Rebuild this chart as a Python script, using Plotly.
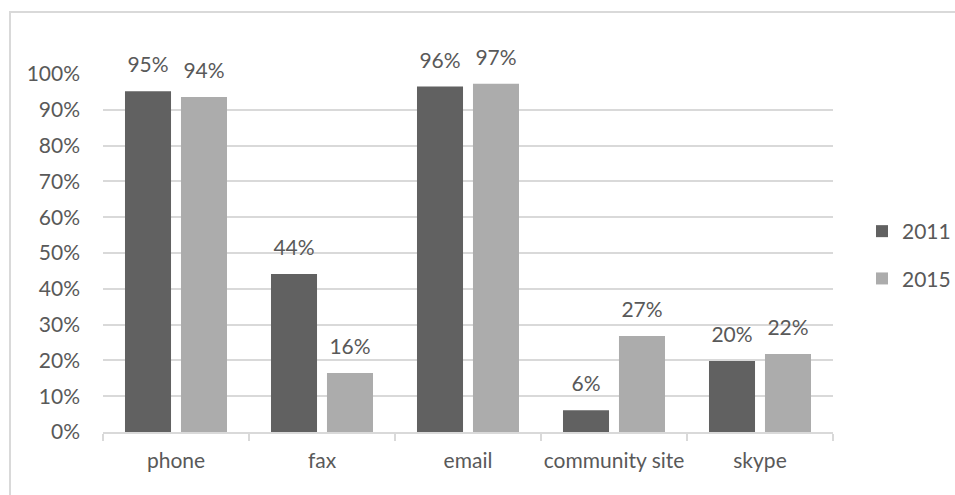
import plotly.graph_objects as go

categories = ["phone", "fax", "email", "community site", "skype"]
series_names = ["2011", "2015"]
values_2011 = [0.952, 0.441, 0.965, 0.061, 0.198]
values_2015 = [0.936, 0.165, 0.973, 0.268, 0.218]
y_ticks = [0, 0.1, 0.2, 0.3, 0.4, 0.5, 0.6, 0.7, 0.8, 0.9, 1.0]
y_tick_labels = ["0%", "10%", "20%", "30%", "40%", "50%", "60%", "70%", "80%", "90%", "100%"]

colors = ["#616161", "#acacac"]
FONT = "Lato"
TXT = "#595959"
FS = 21

fig = go.Figure()
for name, vals, col in zip(series_names, [values_2011, values_2015], colors):
    fig.add_trace(go.Bar(
        x=categories, y=vals, name=name, offsetgroup=name, legendgroup=name,
        marker=dict(color=col, line=dict(width=0)),
        hoverinfo="skip",
    ))
for name, vals in zip(series_names, [values_2011, values_2015]):
    fig.add_trace(go.Scatter(
        x=categories, y=vals, offsetgroup=name, mode="markers+text",
        text=[f"{round(v*100)}%" for v in vals], textposition="top center",
        textfont=dict(family=FONT, size=FS, color=TXT),
        marker=dict(size=20, opacity=0), showlegend=False, cliponaxis=False,
        hoverinfo="skip",
    ))

W, H = 955, 495
fig.update_layout(
    width=W, height=H,
    margin=dict(l=103, r=122, t=74, b=63),
    paper_bgcolor="white", plot_bgcolor="white",
    barmode="group", scattermode="group",
    bargap=0.233, bargroupgap=0.178, scattergap=0.233,
    font=dict(family=FONT, size=FS, color=TXT),
    showlegend=True,
    legend=dict(xref="container", yref="container", x=862 / W, xanchor="left",
                y=1 - 255 / H, yanchor="middle",
                font=dict(family=FONT, size=FS, color=TXT),
                tracegroupgap=17, bgcolor="rgba(0,0,0,0)"),
    xaxis=dict(type="category", showgrid=False, showline=True, linecolor="#d9d9d9",
               linewidth=1.5, ticks="outside", tickson="boundaries", ticklen=7,
               tickcolor="#d9d9d9", tickwidth=1.5, ticklabelstandoff=9,
               tickangle=0, automargin=False,
               tickfont=dict(family=FONT, size=FS, color=TXT)),
    yaxis=dict(range=[0, 1.0], tickvals=y_ticks, ticktext=y_tick_labels,
               showgrid=True, gridcolor="#d9d9d9", gridwidth=1.5, zeroline=False,
               showline=False, ticks="", ticklabelstandoff=22, automargin=False,
               tickfont=dict(family=FONT, size=FS, color=TXT)),
    shapes=[dict(type="rect", xref="paper", yref="paper",
                 x0=(10 - 103) / 730, x1=(980 - 103) / 730,
                 y0=(432 - 520) / 358, y1=(432 - 12) / 358,
                 line=dict(color="#d9d9d9", width=2), fillcolor="rgba(0,0,0,0)", layer="below")],
)

fig.write_html("out.html", config={"displayModeBar": False},
               post_script="document.body.style.margin='0';")
